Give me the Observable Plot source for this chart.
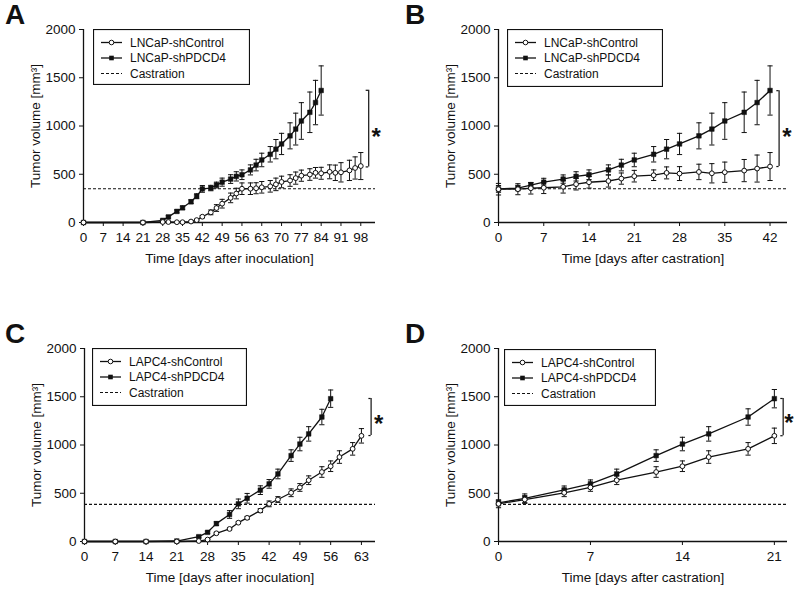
<!DOCTYPE html>
<html><head><meta charset="utf-8">
<script src="https://cdn.jsdelivr.net/npm/d3@7"></script>
<script src="https://cdn.jsdelivr.net/npm/@observablehq/plot@0.6"></script>
<style>
body{margin:0;background:#fff;font-family:"Liberation Sans",Arial,sans-serif;}
#root{position:relative;width:800px;height:590px;overflow:hidden;background:#fff;}
.panel{position:absolute;width:400px;height:290px;}
.letter{position:absolute;font-weight:bold;font-size:28px;line-height:28px;color:#111;}
.legend{position:absolute;}
</style></head>
<body><div id="root"></div>
<script>
// ---------- Panel A: LNCaP, days after inoculation ----------
const daysA_ctrl = [0,21,28,30,33,35,38,40,42,45,47,49,52,54,56,59,61,63,66,68,70,73,75,77,80,82,84,87,89,91,94,96,98];
const volA_ctrl  = [0,0,5,5,3,3,10,25,60,105,150,195,255,300,350,350,355,365,375,395,420,435,460,485,497,515,510,525,515,520,540,565,585];
const semA_ctrl  = [0,0,4,4,4,4,6,8,12,25,35,45,50,55,60,60,57,60,60,65,60,60,63,58,60,55,62,72,80,100,105,115,140];
const daysA_kd   = [0,21,28,30,33,35,38,40,42,45,47,49,52,54,56,59,61,63,66,68,70,73,75,77,80,82,84];
const volA_kd    = [0,0,22,58,115,152,215,272,348,357,388,418,450,478,495,545,595,648,707,760,814,898,968,1052,1142,1243,1368];
const semA_kd    = [0,0,10,12,15,18,20,25,35,28,30,42,45,48,50,52,60,70,80,100,110,135,165,190,210,230,255];
const castA = 350;
const bracketA = {x: 100.8, lo: 576, hi: 1370, tick: 0.9, starX: 103.4, starY: 956};

// ---------- Panel B: LNCaP, days after castration ----------
const daysB_ctrl = [0,3,5,7,10,12,14,17,19,21,24,26,28,31,33,35,38,40,42];
const volB_ctrl  = [345,345,355,360,370,397,417,430,455,480,490,514,507,524,510,521,538,559,580];
const semB_ctrl  = [60,57,60,60,65,60,60,63,58,60,55,62,72,80,100,105,115,140,145];
const daysB_kd   = [0,3,5,7,10,12,14,17,19,21,24,26,28,31,33,35,38,40,42];
const volB_kd    = [348,357,388,418,450,478,495,545,595,648,707,760,814,898,968,1052,1142,1243,1368];
const semB_kd    = [35,28,25,40,43,48,50,52,60,70,80,100,110,135,165,190,210,230,255];
const castB = 350;
const bracketB = {x: 43.4, lo: 580, hi: 1366, tick: 0.35, starX: 44.6, starY: 959};

// ---------- Panel C: LAPC4, days after inoculation ----------
const daysC_ctrl = [0,7,14,21,26,28,30,33,35,37,40,42,44,47,49,51,54,56,58,61,63];
const volC_ctrl  = [0,0,0,0,5,20,85,130,195,245,320,390,435,505,560,635,720,780,875,960,1095];
const semC_ctrl  = [0,0,0,0,0,5,10,10,10,15,20,30,30,40,40,45,55,55,65,65,75];
const daysC_kd   = [0,7,14,21,26,28,30,33,35,37,40,42,44,47,49,51,54,56];
const volC_kd    = [0,0,0,5,50,95,185,280,390,448,532,597,700,890,1010,1115,1290,1480];
const semC_kd    = [0,0,0,0,10,12,20,40,50,50,45,45,50,60,70,75,80,90];
const castC = 385;
const bracketC = {x: 65.2, lo: 1098, hi: 1482, tick: 0.5, starX: 66.9, starY: 1285};

// ---------- Panel D: LAPC4, days after castration ----------
const daysD_ctrl = [0,2,5,7,9,12,14,16,19,21];
const volD_ctrl  = [390,435,505,560,635,720,780,875,960,1095];
const semD_ctrl  = [40,40,40,40,45,55,55,65,65,80];
const daysD_kd   = [0,2,5,7,9,12,14,16,19,21];
const volD_kd    = [400,448,535,598,700,890,1010,1115,1290,1480];
const semD_kd    = [30,45,40,40,50,60,70,75,85,95];
const castD = 385;
const bracketD = {x: 21.67, lo: 1096, hi: 1482, tick: 0.18, starX: 22.1, starY: 1297};

const yTicks = [0, 500, 1000, 1500, 2000];
const xTicksA = d3.range(0, 99, 7);
const xTicksB = d3.range(0, 43, 7);
const xTicksC = d3.range(0, 64, 7);
const xTicksD = [0, 7, 14, 21];

const INK = "#111";
const cap = {draw(ctx, size){ const w = Math.sqrt(size/Math.PI); ctx.moveTo(-w,0); ctx.lineTo(w,0); }};

function rows(days, vals, sems){ return days.map((d,i)=>({x:d, y:vals[i], e:sems[i]})); }

function makePanel(cfg){
  const ctrl = rows(cfg.dc, cfg.vc, cfg.ec);
  const kd = rows(cfg.dk, cfg.vk, cfg.ek);
  const errs = [...ctrl, ...kd].filter(d=>d.e>0);
  const br = cfg.bracket;
  const plot = Plot.plot({
    width: 400, height: 290,
    marginLeft: cfg.ml, marginRight: cfg.mr, marginTop: 29, marginBottom: 68,
    style: {fontFamily: '"Liberation Sans", Arial, sans-serif', fontSize: "13.5px", color: INK, background: "white", overflow: "visible"},
    x: {domain: [0, cfg.xmax], ticks: cfg.xticks, tickSize: 4, tickPadding: 6, label: cfg.xlabel, labelAnchor: "center", labelOffset: 40, labelArrow: "none", tickFormat: d=>String(d)},
    y: {domain: [0, 2000], ticks: yTicks, tickSize: 4, tickPadding: 4, label: "Tumor volume [mm³]", labelAnchor: "center", labelOffset: 53, labelArrow: "none", tickFormat: d=>String(d)},
    marks: [
      Plot.ruleY([cfg.cast], {stroke: INK, strokeWidth: 1.2, strokeDasharray: "3,2"}),
      Plot.ruleX([0], {stroke: INK, strokeWidth: 1.3}),
      Plot.ruleY([0], {stroke: INK, strokeWidth: 1.3}),
      Plot.ruleX(errs, {x: "x", y1: d=>d.y-d.e, y2: d=>d.y+d.e, stroke: INK, strokeWidth: 1}),
      Plot.dot(errs, {x: "x", y: d=>d.y+d.e, symbol: cap, r: 2.6, stroke: INK, fill: "none", strokeWidth: 1}),
      Plot.dot(errs, {x: "x", y: d=>d.y-d.e, symbol: cap, r: 2.6, stroke: INK, fill: "none", strokeWidth: 1}),
      Plot.line(ctrl, {x: "x", y: "y", stroke: INK, strokeWidth: 1.3}),
      Plot.line(kd, {x: "x", y: "y", stroke: INK, strokeWidth: 1.3}),
      Plot.dot(kd, {x: "x", y: "y", symbol: "square", r: 2.6, fill: INK, stroke: INK, strokeWidth: 0.5}),
      Plot.dot(ctrl, {x: "x", y: "y", symbol: "circle", r: 2.4, fill: "white", stroke: INK, strokeWidth: 1}),
      Plot.ruleX([br], {x: "x", y1: "lo", y2: "hi", stroke: INK, strokeWidth: 1.2}),
      Plot.ruleY([br.lo, br.hi], {x1: br.x - br.tick, x2: br.x, stroke: INK, strokeWidth: 1.2}),
      Plot.text([br], {x: "starX", y: "starY", text: () => "*", fontSize: 24, fontWeight: "bold", fill: INK, dy: 7})
    ]
  });
  const panel = document.createElement("div");
  panel.className = "panel";
  panel.style.left = cfg.left + "px";
  panel.style.top = cfg.top + "px";
  panel.appendChild(plot);
  plot.style.position = "absolute"; plot.style.left = "0px"; plot.style.top = "0px";

  const letter = document.createElement("div");
  letter.className = "letter";
  letter.textContent = cfg.letter;
  letter.style.left = "5px"; letter.style.top = "1px";
  panel.appendChild(letter);

  // legend
  const lg = cfg.legend;
  const svg = d3.create("svg").attr("class", "legend")
    .attr("width", lg.w).attr("height", lg.h)
    .style("left", lg.x + "px").style("top", lg.y + "px");
  svg.append("rect").attr("x", 0.5).attr("y", 0.5).attr("width", lg.w - 1).attr("height", lg.h - 1)
    .attr("fill", "white").attr("stroke", INK).attr("stroke-width", 1.2);
  const items = [
    {label: cfg.names[0], type: "circle"},
    {label: cfg.names[1], type: "square"},
    {label: "Castration", type: "dash"}
  ];
  const rowY = [13.5, 29, 44.5];
  items.forEach((it, i) => {
    const y = rowY[i];
    const ln = svg.append("line").attr("x1", 8).attr("x2", 29).attr("y1", y).attr("y2", y)
      .attr("stroke", INK).attr("stroke-width", it.type === "dash" ? 1.1 : 1.3);
    if (it.type === "dash") ln.attr("stroke-dasharray", "3,2");
    if (it.type === "circle") svg.append("circle").attr("cx", 18.5).attr("cy", y).attr("r", 2.3).attr("fill", "white").attr("stroke", INK);
    if (it.type === "square") svg.append("rect").attr("x", 16.2).attr("y", y - 2.3).attr("width", 4.6).attr("height", 4.6).attr("fill", INK);
    svg.append("text").attr("x", 37).attr("y", y).attr("dy", "0.35em")
      .attr("font-size", 12).attr("font-family", '"Liberation Sans", Arial, sans-serif').attr("fill", INK).text(it.label);
  });
  svg.style("position", "absolute");
  panel.appendChild(svg.node());
  document.getElementById("root").appendChild(panel);
}

makePanel({letter: "A", left: 0, top: 0, ml: 83, mr: 25, xmax: 103.2, xticks: xTicksA, xlabel: "Time [days after inoculation]",
  dc: daysA_ctrl, vc: volA_ctrl, ec: semA_ctrl, dk: daysA_kd, vk: volA_kd, ek: semA_kd, cast: castA, bracket: bracketA,
  names: ["LNCaP-shControl", "LNCaP-shPDCD4"], legend: {x: 93, y: 29, w: 157, h: 56}});
makePanel({letter: "B", left: 400, top: 0, ml: 98, mr: 13, xmax: 44.7, xticks: xTicksB, xlabel: "Time [days after castration]",
  dc: daysB_ctrl, vc: volB_ctrl, ec: semB_ctrl, dk: daysB_kd, vk: volB_kd, ek: semB_kd, cast: castB, bracket: bracketB,
  names: ["LNCaP-shControl", "LNCaP-shPDCD4"], legend: {x: 107, y: 29, w: 156, h: 58}});
makePanel({letter: "C", left: 0, top: 319, ml: 84, mr: 25, xmax: 66.2, xticks: xTicksC, xlabel: "Time [days after inoculation]",
  dc: daysC_ctrl, vc: volC_ctrl, ec: semC_ctrl, dk: daysC_kd, vk: volC_kd, ek: semC_kd, cast: castC, bracket: bracketC,
  names: ["LAPC4-shControl", "LAPC4-shPDCD4"], legend: {x: 92, y: 29, w: 155, h: 58}});
makePanel({letter: "D", left: 400, top: 319, ml: 98, mr: 13, xmax: 22, xticks: xTicksD, xlabel: "Time [days after castration]",
  dc: daysD_ctrl, vc: volD_ctrl, ec: semD_ctrl, dk: daysD_kd, vk: volD_kd, ek: semD_kd, cast: castD, bracket: bracketD,
  names: ["LAPC4-shControl", "LAPC4-shPDCD4"], legend: {x: 104, y: 30, w: 152, h: 57}});
</script>
</body></html>
